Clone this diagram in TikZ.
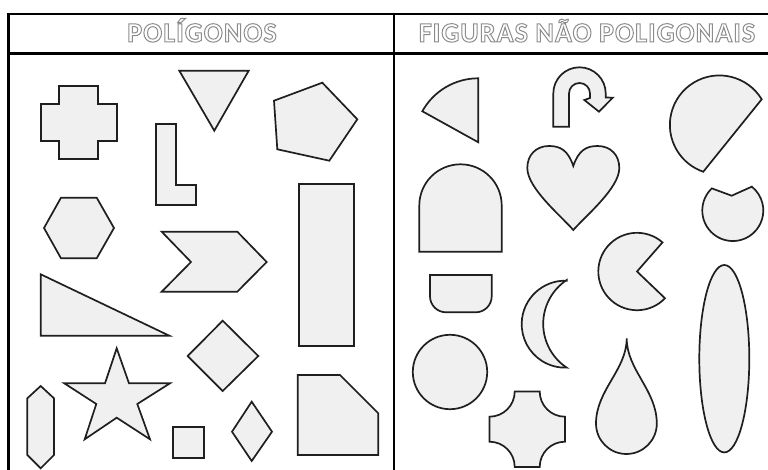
\documentclass[tikz,border=0pt]{standalone}
\usepackage{fontspec}
\newfontfamily\titlefont[LetterSpace=4]{Carlito Bold}
\newcommand{\outlinetext}[1]{\special{pdf:literal direct 1 Tr 1.0 w}#1\special{pdf:literal direct 0 Tr}}
\begin{document}
\begin{tikzpicture}[x=1pt,y=1pt,
  shp/.style={draw=black!88, fill=black!6, line width=1.7pt, line join=miter},
  frame/.style={draw=black, line width=2.8pt},
  ttl/.style={anchor=base, inner sep=0pt, text=black!45, font=\titlefont\fontsize{28}{28}\selectfont}]
\useasboundingbox (0,0) rectangle (768,-470);
\fill[white] (0,0) rectangle (768,-470);
% frame
\draw[frame] (8.7,-472) -- (8.7,-14) -- (770,-14);
\draw[frame] (8.7,-53.3) -- (770,-53.3);
\draw[frame] (394,-14) -- (394,-472);
% titles
\node[ttl] (t1) at (202,-42) {\outlinetext{POLÍGONOS}};
\node[ttl] (t2) at (587,-42) {\outlinetext{FIGURAS NÃO POLIGONAIS}};
% ---------- polygons ----------
\draw[shp] (59,-86) -- (98,-86) -- (98,-104) -- (117,-104) -- (117,-141) -- (98,-141) -- (98,-159) -- (59,-159) -- (59,-141) -- (41,-141) -- (41,-104) -- (59,-104) -- cycle;
\draw[shp] (179.3,-70.7) -- (248.7,-70.7) -- (214.3,-130.7) -- cycle;
\draw[shp] (274,-100.7) -- (322.3,-82.7) -- (357.3,-119.3) -- (329.3,-160.7) -- (277.3,-149.3) -- cycle;
\draw[shp] (155.7,-124) -- (175.7,-124) -- (175.7,-185) -- (196,-185) -- (196,-205) -- (155.7,-205) -- cycle;
\draw[shp] (61,-197.7) -- (96.7,-197.7) -- (114,-228) -- (96.7,-258.3) -- (61,-258.3) -- (44,-228) -- cycle;
\draw[shp] (299.3,-184.3) rectangle (354.3,-345.7);
\draw[shp] (161.7,-231.7) -- (237.3,-231.7) -- (266.7,-262) -- (237.3,-291.7) -- (161.7,-291.7) -- (191,-262) -- cycle;
\draw[shp] (40.7,-274.3) -- (169.3,-335.7) -- (40.7,-335.7) -- cycle;
\draw[shp] (222.7,-320.7) -- (258.3,-356) -- (222.7,-391) -- (187.7,-356) -- cycle;
\draw[shp] (116.7,-348.3) -- (129,-383.3) -- (170,-383.3) -- (137.3,-404) -- (150,-439.3) -- (116.7,-417.7) -- (84.7,-439.3) -- (96.3,-404) -- (64.3,-383.3) -- (105,-383.3) -- cycle;
\draw[shp] (40.7,-386) -- (54,-398.3) -- (54,-455) -- (40.7,-468.3) -- (27.3,-455) -- (27.3,-398.3) -- cycle;
\draw[shp] (173.3,-426.7) rectangle (204,-457.7);
\draw[shp] (251.7,-401.7) -- (272,-431.7) -- (251.7,-461) -- (232,-431.7) -- cycle;
\draw[shp] (297.7,-375) -- (340,-375) -- (378.3,-413.3) -- (378.3,-455) -- (297.7,-455) -- cycle;
% ---------- non polygons ----------
% sector
\draw[shp] (478.3,-142.3) -- (478.3,-78.3) arc[start angle=90, end angle=151, radius=64] -- cycle;
% u-turn arrow
\draw[shp] (553.3,-126.7) -- (553.3,-93.5) arc[start angle=180, end angle=0, radius=26.2] -- (605.7,-97.5) -- (612.7,-97.7) -- (599,-111.7) -- (584.3,-100) -- (590,-98) -- (590,-93.5) arc[start angle=0, end angle=180, radius=10.5] -- (569,-126.7) -- cycle;
% big segment
\draw[shp] (761.7,-99.3) arc[start angle=31.2, end angle=251, radius=49.5] -- cycle;
% heart
\draw[shp] (573.3,-230) .. controls (560,-215) and (527.3,-188) .. (527.3,-168)
  .. controls (527.3,-155) and (536,-146) .. (549,-146)
  .. controls (560,-146) and (568,-150) .. (573.3,-166)
  .. controls (578.6,-150) and (586.6,-146) .. (597.6,-146)
  .. controls (610.6,-146) and (619.3,-155) .. (619.3,-168)
  .. controls (619.3,-188) and (586.6,-215) .. (573.3,-230) -- cycle;
% arch
\draw[shp] (419.3,-251.7) -- (419.3,-205.5) arc[start angle=180, end angle=0, radius=41.2] -- (501.7,-251.7) -- cycle;
% notched circle
\draw[shp] (731.7,-195.7) -- (711.8,-188.4) arc[start angle=133.5, end angle=411.5, radius=30.5] -- cycle;
% pac-man
\draw[shp] (637,-271.5) -- (662.5,-242.4) arc[start angle=48.8, end angle=316.3, radius=38.7] -- cycle;
% cup
\draw[shp] (430,-275) -- (491.7,-275) -- (491.7,-296.3) arc[start angle=0, end angle=-90, radius=16] -- (446,-312.3) arc[start angle=270, end angle=180, radius=16] -- cycle;
% crescent
\draw[shp] (566.7,-280.7) arc[start angle=88, end angle=272, radius=43.5] arc[start angle=236.4, end angle=123.6, radius=52.6] -- cycle;
% circle
\draw[shp] (450,-372) circle[radius=37.2];
% curved cross
\begin{scope}[shift={(527.2,-429.2)}]
\draw[shp] (-12.5,37.7) -- (12.5,37.7) arc[start angle=180, end angle=270, radius=25.2] -- (37.7,-12.5) arc[start angle=90, end angle=180, radius=25.2] -- (-12.5,-37.7) arc[start angle=0, end angle=90, radius=25.2] -- (-37.7,12.5) arc[start angle=270, end angle=360, radius=25.2] -- cycle;
\end{scope}
% teardrop
\draw[shp] (626.7,-338.3) .. controls (626.7,-370) and (656.8,-390) .. (656.8,-423.6) arc[start angle=0, end angle=-180, radius=30.4] .. controls (596,-390) and (626.7,-370) .. (626.7,-338.3) -- cycle;
% tall ellipse
\draw[shp] (724.3,-358.7) ellipse[x radius=25, y radius=93.7];
\end{tikzpicture}
\end{document}
